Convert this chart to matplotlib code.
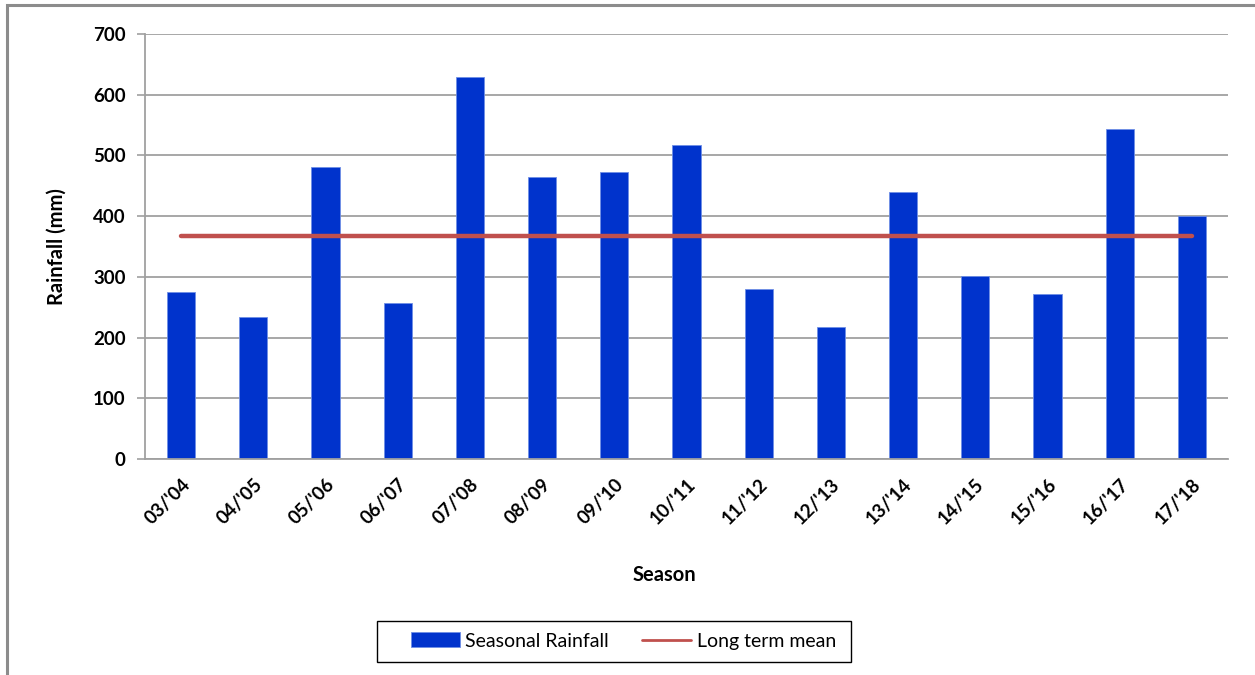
import matplotlib
matplotlib.use("Agg")
import matplotlib.pyplot as plt
from matplotlib.patches import Rectangle
import numpy as np

plt.rcParams['font.family'] = ['Lato', 'DejaVu Sans']

seasons = ["03/'04", "04/'05", "05/'06", "06/'07", "07/'08", "08/'09", "09/'10",
           "10/'11", "11/'12", "12/'13", "13/'14", "14/'15", "15/'16", "16/'17", "17/'18"]
rainfall = [275, 234, 481, 257, 629, 465, 473, 517, 280, 217, 440, 301, 272, 544, 400]
long_term_mean = 367
y_ticks = [0, 100, 200, 300, 400, 500, 600, 700]

W, H = 1255, 675
fig = plt.figure(figsize=(12.55, 6.75), dpi=100)
fig.patches.append(Rectangle((7/W, -0.1), 1.2, 1.1 - 5/H, transform=fig.transFigure,
                             fill=False, edgecolor='#8C8C8C', linewidth=2.2, zorder=0))

ax = fig.add_axes([145/W, 1 - 459/H, (1228 - 145)/W, (459 - 34)/H])
x = np.arange(len(seasons))
bars = ax.bar(x, rainfall, width=0.39, color='#0033CC', edgecolor='#6F8FE6', linewidth=0.6,
              label='Seasonal Rainfall', zorder=2)
line, = ax.plot([x[0], x[-1]], [long_term_mean, long_term_mean], color='#C0504D', linewidth=3.2,
                solid_capstyle='round', label='Long term mean', zorder=3)

ax.set_xlim(-0.5, len(seasons) - 0.5)
ax.set_ylim(0, 700)
ax.set_yticks(y_ticks)
ax.set_yticklabels([str(v) for v in y_ticks], fontsize=13.5, fontweight='bold')
ax.set_xticks(x)
ax.set_xticklabels(seasons, rotation=45, ha='right', rotation_mode='anchor',
                   fontsize=13.5, fontweight='bold')
ax.tick_params(axis='x', length=0, pad=12)
ax.tick_params(axis='y', length=6, color='#A0A0A0', width=1.2, pad=8)
ax.yaxis.grid(True, color='#A0A0A0', linewidth=1.3, zorder=0)
ax.set_axisbelow(True)
for s in ['top', 'right']:
    ax.spines[s].set_visible(False)
for s in ['left', 'bottom']:
    ax.spines[s].set_color('#A0A0A0')
    ax.spines[s].set_linewidth(1.3)

fig.text(57/W, 1 - 247/H, 'Rainfall (mm)', fontsize=14.5, fontweight='bold',
         ha='center', va='center', rotation=90)
fig.text(664/W, 1 - 575/H, 'Season', fontsize=14.5, fontweight='bold', ha='center', va='center')

# legend box
fig.patches.append(Rectangle((377/W, 1 - 662/H), (851 - 377)/W, (662 - 621)/H,
                             transform=fig.transFigure, fill=False, edgecolor='black',
                             linewidth=1.0, zorder=5))
leg = fig.legend([bars, line], ['Seasonal Rainfall', 'Long term mean'],
                 loc='center left', bbox_to_anchor=(411/W, 1 - 641/H), ncol=2, fontsize=14,
                 frameon=False, borderpad=0, borderaxespad=0,
                 handlelength=2.5, handleheight=0.8, columnspacing=1.7, handletextpad=0.3)
for l in leg.get_lines():
    l.set_linewidth(2)

fig.savefig('out.png', dpi=100)
